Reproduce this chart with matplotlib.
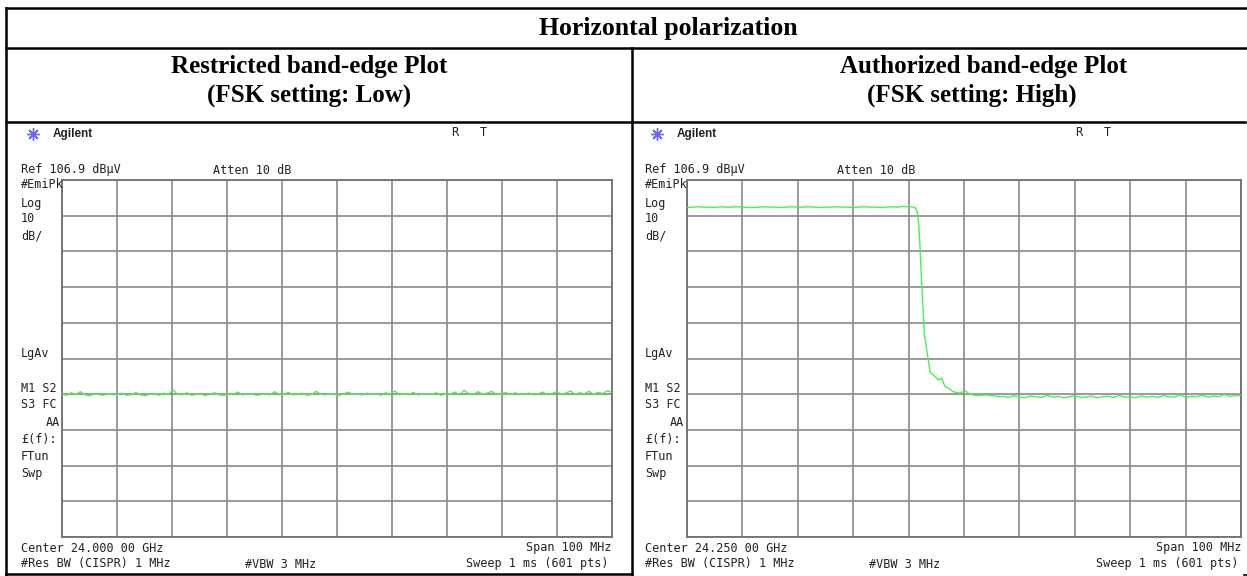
import numpy as np
import matplotlib
matplotlib.use("Agg")
import matplotlib.pyplot as plt
from matplotlib.lines import Line2D

W, H = 1247, 576

REF_LEVEL = 106.9   # dBuV, top of screen
DB_PER_DIV = 10

low_center, low_span = 24.000, 0.100     # GHz
low_levels = [
    46.9, 46.6, 47.3, 46.8, 47.6, 46.7, 46.5, 47.0, 46.8, 46.6,
    47.1, 46.7, 46.9, 47.2, 46.6, 46.8, 47.4, 46.7, 46.5, 46.9,
    47.0, 46.6, 47.2, 46.8, 48.1, 46.9, 46.7, 47.3, 46.6, 46.8,
    47.0, 46.5, 46.9, 47.3, 46.7, 46.6, 47.0, 46.8, 47.5, 46.7,
    46.9, 47.1, 46.6, 46.8, 47.0, 46.7, 47.6, 46.8, 46.9, 47.4,
    46.7, 46.9, 47.2, 46.6, 46.8, 47.7, 46.9, 46.7, 47.1, 46.8,
    46.6, 47.0, 47.5, 46.8, 46.9, 46.7, 47.2, 46.8, 47.0, 46.6,
    47.3, 46.9, 47.8, 46.7, 47.0, 46.8, 47.4, 46.7, 46.9, 47.1,
    46.8, 47.3, 46.6, 47.0, 46.9, 47.5, 46.7, 48.0, 47.1, 46.8,
    47.6, 46.9, 47.2, 47.7, 46.8, 47.0, 47.4, 46.7, 47.3, 46.9,
    46.8, 47.2, 46.7, 47.0, 47.5, 46.8, 47.1, 47.6, 46.9, 47.2,
    47.8, 46.9, 47.3, 47.0, 47.7, 46.9, 47.4, 47.1, 47.9, 47.3,
]

high_center, high_span = 24.250, 0.100
# flat in-band part, 1 MHz steps from 24.200 to 24.240 GHz
high_top_levels = [
    99.2, 99.3, 99.4, 99.3, 99.3, 99.2, 99.4, 99.3, 99.3, 99.4,
    99.3, 99.2, 99.2, 99.3, 99.4, 99.3, 99.3, 99.2, 99.3, 99.4,
    99.3, 99.3, 99.4, 99.3, 99.2, 99.3, 99.3, 99.4, 99.3, 99.3,
    99.2, 99.3, 99.4, 99.3, 99.3, 99.2, 99.3, 99.4, 99.3, 99.5, 99.4,
]
# the band edge roll-off
edge_freqs = [
    24.24116, 24.24157, 24.24182, 24.24206, 24.24224, 24.24242,
    24.24265, 24.24283, 24.24327, 24.24356, 24.24386, 24.24446,
    24.24536, 24.24597, 24.24657, 24.24717, 24.24807, 24.24928,
    24.25018, 24.25108, 24.25229, 24.25410, 24.25650,
]
edge_levels = [
    99.3, 98.0, 94.8, 88.2, 81.7, 76.1,
    69.6, 63.9, 59.3, 56.5, 53.2, 52.3,
    50.9, 51.4, 49.0, 48.6, 47.6, 47.2,
    47.9, 46.9, 46.5, 46.7, 46.2,
]
# noise floor, 1 MHz steps from 24.257 to 24.300 GHz
high_floor_levels = [
    46.3, 46.0, 46.5, 46.1, 45.9, 46.4, 46.2, 46.0, 46.6, 46.1,
    46.3, 45.9, 46.2, 46.5, 46.0, 46.1, 46.4, 45.9, 46.2, 46.3,
    46.0, 46.6, 46.1, 46.2, 45.9, 46.4, 46.1, 46.3, 46.0, 46.5,
    46.2, 46.1, 46.7, 46.0, 46.3, 46.2, 46.6, 46.1, 46.4, 46.2,
    46.8, 46.3, 46.5, 46.6,
]

TRACE = "#4cf04c"
GRID = "#8a8a8a"


def fx(x):
    return x / W


def fy(y):
    return 1 - y / H


fig = plt.figure(figsize=(W / 100, H / 100), dpi=100)


def screen(ax, center, span):
    ax.set_xlim(center - span / 2, center + span / 2)
    ax.set_ylim(REF_LEVEL - 10 * DB_PER_DIV, REF_LEVEL)
    ax.set_xticks(np.linspace(center - span / 2, center + span / 2, 11))
    ax.set_yticks(np.linspace(REF_LEVEL - 10 * DB_PER_DIV, REF_LEVEL, 11))
    ax.grid(True, color=GRID, linewidth=1.2)
    ax.tick_params(length=0, labelbottom=False, labelleft=False)
    for s in ax.spines.values():
        s.set_color("#707070")
        s.set_linewidth(1.3)


# --- left screen ---
axL = fig.add_axes([fx(62), fy(537), fx(612 - 62), (537 - 180) / H])
screen(axL, low_center, low_span)
low_freqs = np.linspace(low_center - low_span / 2, low_center + low_span / 2, len(low_levels))
axL.plot(low_freqs, low_levels, color=TRACE, linewidth=1.0, zorder=3)

# --- right screen ---
axR = fig.add_axes([fx(687), fy(537), fx(1241 - 687), (537 - 180) / H])
screen(axR, high_center, high_span)
top_freqs = np.linspace(24.200, 24.240, len(high_top_levels))
floor_freqs = np.linspace(24.257, 24.300, len(high_floor_levels))
hf = np.concatenate([top_freqs, edge_freqs, floor_freqs])
hl = np.concatenate([high_top_levels, edge_levels, high_floor_levels])
axR.plot(hf, hl, color=TRACE, linewidth=1.0, zorder=3)

# --- table frame ---
def hline(y, x0, x1, lw=1.8):
    fig.add_artist(Line2D([fx(x0), fx(x1)], [fy(y), fy(y)], color="black",
                          linewidth=lw, transform=fig.transFigure))


def vline(x, y0, y1, lw=1.8):
    fig.add_artist(Line2D([fx(x), fx(x)], [fy(y0), fy(y1)], color="black",
                          linewidth=lw, transform=fig.transFigure))


hline(8, 6, 1247)
hline(48, 6, 1247)
hline(122, 6, 1245)
hline(574, 6, 632)
hline(575, 1244, 1247, lw=1.2)
vline(6, 8, 575)
vline(632, 48, 575)

serif = dict(family="Liberation Serif", weight="bold", ha="center", va="center")
fig.text(fx(668), fy(29), "Horizontal polarization", fontsize=18.5, **serif)
fig.text(fx(309), fy(67), "Restricted band-edge Plot", fontsize=18, **serif)
fig.text(fx(309), fy(95), "(FSK setting: Low)", fontsize=18, **serif)
fig.text(fx(984), fy(67), "Authorized band-edge Plot", fontsize=18, **serif)
fig.text(fx(972), fy(95), "(FSK setting: High)", fontsize=18, **serif)

# --- instrument annotations, same for both screens except center freq ---
mono = dict(family="DejaVu Sans Mono", fontsize=8.5, color="#222222", va="center")
side_labels = [("#EmiPk", 185), ("Log", 203), ("10", 219), ("dB/", 236),
               ("LgAv", 354), ("M1 S2", 389), ("S3 FC", 405),
               ("£(f):", 440), ("FTun", 456), ("Swp", 473)]
centers = ["Center 24.000 00 GHz", "Center 24.250 00 GHz"]

for i, dx in enumerate([0, 624]):
    grid_right = 612 if i == 0 else 1241
    fig.add_artist(Line2D([fx(33 + dx)], [fy(134)], marker=(8, 2, 0), markersize=9,
                          color="#6a6af0", markeredgewidth=1.0,
                          transform=fig.transFigure))
    fig.text(fx(53 + dx), fy(134), "Agilent", family="Liberation Sans",
             weight="bold", fontsize=8.5, va="center", color="#222222")
    fig.text(fx(455 + dx), fy(133), "R", ha="center", **mono)
    fig.text(fx(483 + dx), fy(133), "T", ha="center", **mono)
    fig.text(fx(21 + dx), fy(170), "Ref 106.9 dBµV", **mono)
    fig.text(fx(213 + dx), fy(170), "Atten 10 dB", **mono)
    for txt, y in side_labels:
        fig.text(fx(21 + dx), fy(y), txt, **mono)
    fig.text(fx(60 + dx), fy(422), "AA", ha="right", **mono)
    fig.text(fx(21 + dx), fy(548), centers[i], **mono)
    fig.text(fx(21 + dx), fy(564), "#Res BW (CISPR) 1 MHz", **mono)
    fig.text(fx(245 + dx), fy(564), "#VBW 3 MHz", **mono)
    fig.text(fx(grid_right), fy(548), "Span 100 MHz", ha="right", **mono)
    fig.text(fx(grid_right - 3), fy(564), "Sweep 1 ms (601 pts)", ha="right", **mono)

fig.savefig("out.png", dpi=100)
